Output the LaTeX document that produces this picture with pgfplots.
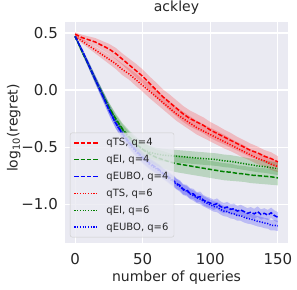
\documentclass[border=0pt]{standalone}
\usepackage{fontspec}
\setmainfont{DejaVu Sans}
\usepackage{pgfplots}
\pgfplotsset{compat=1.18}
\usepackage{pgfplotstable}
\usepgfplotslibrary{fillbetween}
\definecolor{bgc}{HTML}{EAEAF2}
\definecolor{mgreen}{rgb}{0,0.5,0}
\definecolor{legedge}{HTML}{CCCCCC}
\definecolor{txt}{HTML}{262626}

\pgfplotstableread{
x y e
0 0.49 0.015
5 0.46 0.025
10 0.44 0.03
15 0.42 0.035
20 0.39 0.04
25 0.36 0.045
30 0.32 0.05
35 0.27 0.05
40 0.22 0.055
45 0.17 0.06
50 0.12 0.06
55 0.06 0.06
60 0.00 0.065
65 -0.06 0.065
70 -0.11 0.07
75 -0.16 0.07
80 -0.21 0.07
85 -0.25 0.07
90 -0.28 0.07
95 -0.31 0.07
100 -0.35 0.07
105 -0.38 0.07
110 -0.41 0.065
115 -0.44 0.065
120 -0.47 0.06
125 -0.50 0.06
130 -0.53 0.06
135 -0.55 0.055
140 -0.58 0.055
145 -0.60 0.055
150 -0.63 0.05
}\rTSf

\pgfplotstableread{
x y e
0 0.47 0.015
5 0.43 0.02
10 0.39 0.025
15 0.35 0.03
20 0.31 0.035
25 0.27 0.04
30 0.23 0.045
35 0.18 0.05
40 0.14 0.05
45 0.09 0.055
50 0.04 0.055
55 -0.01 0.06
60 -0.06 0.06
65 -0.11 0.06
70 -0.16 0.06
75 -0.21 0.06
80 -0.25 0.06
85 -0.29 0.06
90 -0.33 0.06
95 -0.36 0.06
100 -0.39 0.06
105 -0.42 0.06
110 -0.45 0.06
115 -0.48 0.055
120 -0.51 0.055
125 -0.54 0.055
130 -0.57 0.05
135 -0.60 0.05
140 -0.62 0.05
145 -0.65 0.05
150 -0.67 0.05
}\rTSs

\pgfplotstableread{
x y e
0 0.47 0.01
5 0.34 0.02
10 0.22 0.025
15 0.09 0.03
20 -0.03 0.035
25 -0.15 0.04
30 -0.25 0.045
35 -0.34 0.05
40 -0.41 0.055
45 -0.47 0.06
50 -0.52 0.065
55 -0.56 0.07
60 -0.59 0.07
65 -0.61 0.075
70 -0.63 0.075
75 -0.645 0.075
80 -0.655 0.075
85 -0.665 0.075
90 -0.675 0.075
95 -0.685 0.075
100 -0.695 0.075
105 -0.705 0.075
110 -0.715 0.075
115 -0.72 0.075
120 -0.73 0.07
125 -0.735 0.07
130 -0.745 0.07
135 -0.75 0.07
140 -0.755 0.07
145 -0.76 0.07
150 -0.77 0.065
}\gEIf

\pgfplotstableread{
x y e
0 0.47 0.01
5 0.34 0.02
10 0.22 0.025
15 0.09 0.03
20 -0.03 0.035
25 -0.15 0.04
30 -0.26 0.045
35 -0.35 0.05
40 -0.42 0.05
45 -0.48 0.05
50 -0.52 0.055
55 -0.545 0.055
60 -0.56 0.055
65 -0.57 0.055
70 -0.575 0.055
75 -0.58 0.055
80 -0.585 0.055
85 -0.59 0.055
90 -0.595 0.055
95 -0.60 0.055
100 -0.605 0.055
105 -0.61 0.055
110 -0.62 0.055
115 -0.625 0.055
120 -0.635 0.055
125 -0.645 0.055
130 -0.655 0.055
135 -0.665 0.055
140 -0.67 0.055
145 -0.68 0.055
150 -0.69 0.055
}\gEIs

\pgfplotstableread{
x y e
0 0.47 0.01
5 0.35 0.02
10 0.22 0.03
15 0.09 0.035
20 -0.04 0.04
25 -0.17 0.045
30 -0.29 0.045
35 -0.38 0.045
40 -0.46 0.045
45 -0.53 0.045
50 -0.59 0.045
55 -0.64 0.045
60 -0.68 0.045
62.5 -0.70 0.045
65 -0.73 0.045
67.5 -0.745 0.045
70 -0.77 0.045
72.5 -0.79 0.045
75 -0.82 0.045
77.5 -0.835 0.045
80 -0.87 0.045
82.5 -0.875 0.045
85 -0.905 0.045
87.5 -0.91 0.045
90 -0.94 0.045
92.5 -0.935 0.045
95 -0.965 0.045
97.5 -0.98 0.045
100 -0.99 0.045
102.5 -1.005 0.045
105 -0.995 0.045
107.5 -1.02 0.045
110 -1.035 0.045
112.5 -1.025 0.045
115 -1.045 0.045
117.5 -1.04 0.045
120 -1.06 0.045
122.5 -1.05 0.045
125 -1.065 0.045
127.5 -1.08 0.045
130 -1.07 0.045
132.5 -1.085 0.045
135 -1.065 0.045
137.5 -1.09 0.045
140 -1.08 0.045
142.5 -1.095 0.045
145 -1.075 0.045
147.5 -1.10 0.045
150 -1.115 0.045
}\bEUf

\pgfplotstableread{
x y e
0 0.47 0.01
5 0.35 0.02
10 0.22 0.03
15 0.09 0.035
20 -0.04 0.04
25 -0.17 0.045
30 -0.29 0.045
35 -0.39 0.045
40 -0.47 0.045
45 -0.54 0.045
50 -0.60 0.045
55 -0.65 0.045
60 -0.69 0.045
62.5 -0.71 0.045
65 -0.735 0.045
67.5 -0.755 0.045
70 -0.78 0.045
72.5 -0.80 0.045
75 -0.825 0.045
77.5 -0.845 0.045
80 -0.875 0.045
82.5 -0.885 0.045
85 -0.91 0.045
87.5 -0.925 0.045
90 -0.945 0.045
92.5 -0.955 0.045
95 -0.975 0.045
97.5 -0.99 0.045
100 -1.005 0.045
102.5 -1.02 0.045
105 -1.025 0.045
107.5 -1.045 0.045
110 -1.06 0.045
112.5 -1.065 0.045
115 -1.08 0.045
117.5 -1.085 0.045
120 -1.10 0.045
122.5 -1.10 0.045
125 -1.115 0.045
127.5 -1.125 0.045
130 -1.13 0.045
132.5 -1.14 0.045
135 -1.15 0.045
137.5 -1.155 0.045
140 -1.165 0.045
142.5 -1.17 0.045
145 -1.185 0.045
147.5 -1.185 0.045
150 -1.19 0.045
}\bEUs

\newcommand{\band}[3]{%
  \addplot[name path=#3u, draw=none, forget plot] table[x=x, y expr=\thisrow{y}+\thisrow{e}] {#1};
  \addplot[name path=#3l, draw=none, forget plot] table[x=x, y expr=\thisrow{y}-\thisrow{e}] {#1};
  \addplot[fill=#2, fill opacity=0.2, draw=none, forget plot] fill between[of=#3u and #3l];
}

\tikzset{
  dsh/.style={line width=1.5bp, dash pattern=on 4.4bp off 1.9bp},
  dtt/.style={line width=1.5bp, dash pattern=on 1.2bp off 1.5bp},
}

\begin{document}
\begin{tikzpicture}
\begin{axis}[
  scale only axis,
  width=223bp, height=221bp,
  xmin=-7.5, xmax=157.5,
  ymin=-1.34, ymax=0.596,
  axis background/.style={fill=bgc},
  axis line style={draw=none},
  major tick length=0pt,
  grid=major,
  major grid style={white, line width=1.1bp},
  xtick={0,50,100,150},
  ytick={-1.0,-0.5,0.0,0.5},
  yticklabels={−1.0,−0.5,0.0,0.5},
  /pgf/number format/assume math mode=true,
  tick label style={font=\fontsize{15bp}{18bp}\selectfont, text=txt},
  xticklabel style={inner sep=0pt, anchor=north, yshift=-10bp},
  yticklabel style={inner sep=0pt, anchor=east, xshift=-7bp},
  title={ackley},
  title style={at={(axis description cs:0.5,1)}, anchor=base, yshift=4.7bp, font=\fontsize{14bp}{17bp}\selectfont, text=txt},
  xlabel={number of queries},
  xlabel style={at={(axis description cs:0.5,-0.175)}, anchor=base, font=\fontsize{14bp}{17bp}\selectfont, text=txt},
  ylabel={log\textsubscript{10}(regret)},
  ylabel style={at={(axis description cs:-0.23,0.52)}, anchor=center, font=\fontsize{14bp}{17bp}\selectfont, text=txt},
  legend cell align=left,
  legend image code/.code={\draw[#1] (0bp,0bp) -- (24bp,0bp);},
  legend style={at={(axis description cs:0.0224,0.0256)}, anchor=south west,
    font=\fontsize{10bp}{12bp}\selectfont, text=txt,
    fill=bgc, fill opacity=0.8, text opacity=1, draw=legedge,
    rounded corners=2bp, inner xsep=3.5bp, inner ysep=3.5bp, row sep=4bp,
    /tikz/every odd column/.append style={column sep=5.3bp}},
]
\band{\rTSf}{red}{ra}
\band{\rTSs}{red}{rb}
\band{\gEIf}{mgreen}{ga}
\band{\gEIs}{mgreen}{gb}
\band{\bEUf}{blue}{ba}
\band{\bEUs}{blue}{bb}

\addplot[red, dsh] table[x=x, y=y] {\rTSf}; \addlegendentry{qTS, q=4}
\addplot[mgreen, dsh] table[x=x, y=y] {\gEIf}; \addlegendentry{qEI, q=4}
\addplot[blue, dsh] table[x=x, y=y] {\bEUf}; \addlegendentry{qEUBO, q=4}
\addplot[red, dtt] table[x=x, y=y] {\rTSs}; \addlegendentry{qTS, q=6}
\addplot[mgreen, dtt] table[x=x, y=y] {\gEIs}; \addlegendentry{qEI, q=6}
\addplot[blue, dtt] table[x=x, y=y] {\bEUs}; \addlegendentry{qEUBO, q=6}
\end{axis}
\pgfresetboundingbox
\path[use as bounding box] (-65bp,-47bp) rectangle (232bp,243bp);
\end{tikzpicture}
\end{document}
